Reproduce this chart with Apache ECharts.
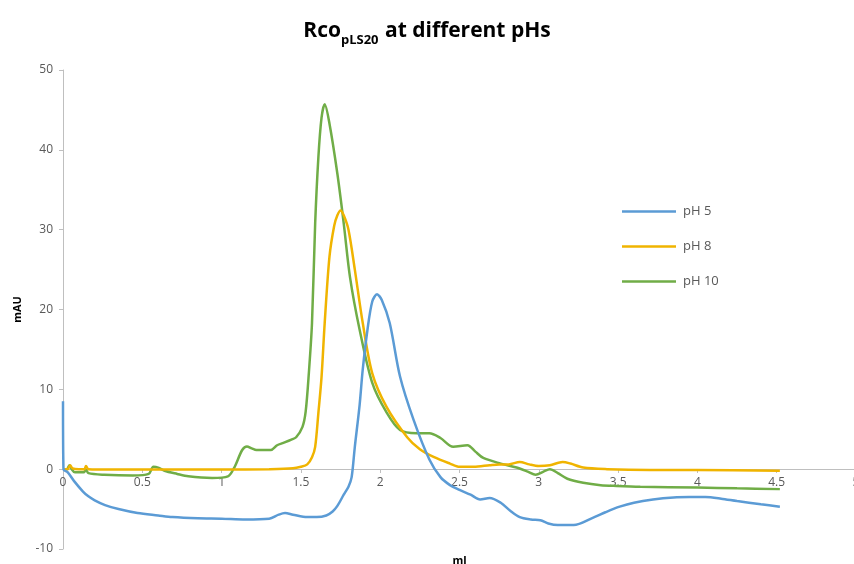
<!DOCTYPE html>
<html><head><meta charset="utf-8">
<script src="https://cdn.jsdelivr.net/npm/echarts@6/dist/echarts.min.js"></script>
<style>html,body{margin:0;padding:0;background:#fff}#c{width:854px;height:564px}</style>
</head><body><div id="c"></div>
<script>
const seriesNames = ['pH 5', 'pH 8', 'pH 10'];
const colors = ['#5B9BD5', '#F0B400', '#70AD47'];
const ph5 = [[0,8.5],[0.003,0],[0.03,-0.4],[0.07,-1.5],[0.126,-2.8],[0.16,-3.4],[0.2,-3.9],[0.265,-4.5],[0.35,-5.0],[0.47,-5.5],[0.6,-5.8],[0.69,-6.0],[0.85,-6.15],[1.0,-6.2],[1.15,-6.3],[1.3,-6.2],[1.36,-5.7],[1.40,-5.5],[1.45,-5.7],[1.54,-6.0],[1.6,-6.0],[1.66,-5.8],[1.70,-5.3],[1.73,-4.6],[1.77,-3.2],[1.80,-2.2],[1.82,-1.0],[1.84,2.8],[1.87,8],[1.89,12.5],[1.92,17.5],[1.95,21],[1.98,21.9],[2.01,21.2],[2.06,18.3],[2.125,11.6],[2.21,6.2],[2.31,1.2],[2.38,-1.0],[2.44,-2.0],[2.5,-2.6],[2.57,-3.2],[2.63,-3.8],[2.69,-3.6],[2.76,-4.2],[2.82,-5.2],[2.88,-6.0],[2.95,-6.3],[3.01,-6.4],[3.06,-6.8],[3.12,-7.0],[3.22,-7.0],[3.34,-6.1],[3.42,-5.4],[3.51,-4.7],[3.6,-4.2],[3.72,-3.8],[3.85,-3.55],[3.95,-3.5],[4.05,-3.5],[4.15,-3.7],[4.25,-4.0],[4.4,-4.4],[4.52,-4.7]];
const ph8 = [[0,0],[0.03,0],[0.045,0.5],[0.06,0.1],[0.1,0],[0.135,0],[0.145,0.4],[0.16,0],[0.3,-0.05],[0.6,-0.05],[1.0,-0.05],[1.3,0],[1.45,0.1],[1.5,0.3],[1.54,0.6],[1.57,1.5],[1.59,2.8],[1.61,7],[1.63,11.5],[1.65,18.3],[1.68,26.6],[1.71,30.5],[1.73,31.8],[1.75,32.4],[1.77,31.8],[1.80,30],[1.84,25],[1.89,18.3],[1.95,12],[2.04,7.8],[2.17,4.0],[2.25,2.5],[2.34,1.5],[2.44,0.7],[2.5,0.3],[2.59,0.3],[2.69,0.5],[2.75,0.6],[2.81,0.6],[2.88,0.9],[2.94,0.6],[3.0,0.4],[3.07,0.5],[3.15,0.9],[3.2,0.7],[3.28,0.2],[3.43,0],[3.7,-0.1],[4.0,-0.1],[4.52,-0.2]];
const ph10 = [[0,0],[0.025,0],[0.04,0.5],[0.055,0],[0.075,-0.4],[0.13,-0.4],[0.145,-0.1],[0.16,-0.5],[0.26,-0.7],[0.44,-0.8],[0.54,-0.6],[0.57,0.3],[0.6,0.2],[0.64,-0.2],[0.72,-0.6],[0.79,-0.9],[0.94,-1.1],[1.04,-0.9],[1.08,0.2],[1.13,2.4],[1.16,2.85],[1.19,2.6],[1.22,2.4],[1.31,2.4],[1.35,3.0],[1.39,3.3],[1.44,3.7],[1.47,4.0],[1.51,5.3],[1.53,7.2],[1.55,12],[1.57,18.3],[1.59,30.8],[1.61,39],[1.63,44],[1.65,45.7],[1.68,43.3],[1.73,37],[1.77,30.8],[1.81,24],[1.87,17.5],[1.95,10.8],[2.04,7.1],[2.125,4.9],[2.23,4.5],[2.31,4.5],[2.38,3.9],[2.46,2.8],[2.55,3.0],[2.6,2.2],[2.65,1.4],[2.76,0.7],[2.86,0.2],[2.93,-0.3],[2.98,-0.7],[3.03,-0.3],[3.07,0],[3.12,-0.5],[3.18,-1.2],[3.28,-1.7],[3.39,-2.0],[3.49,-2.1],[3.64,-2.2],[4.0,-2.3],[4.25,-2.4],[4.52,-2.5]];
const seriesData = [ph5, ph8, ph10];

const chart = echarts.init(document.getElementById('c'), null, {renderer: 'canvas'});
const labelColor = '#595959';
const font = 'Open Sans';
chart.setOption({
  animation: false,
  backgroundColor: '#fff',
  title: {
    text: '{a|Rco}{s|pLS20}{a| at different pHs}',
    left: 'center', top: 11,
    textStyle: {
      rich: {
        a: {fontFamily: font, fontWeight: 'bold', fontSize: 21, color: '#000', verticalAlign: 'bottom', lineHeight: 26},
        s: {fontFamily: font, fontWeight: 'bold', fontSize: 13, color: '#000', verticalAlign: 'bottom', lineHeight: 26, padding: [0, 1, -5, 0]}
      }
    }
  },
  legend: {
    orient: 'vertical', left: 617, top: 200,
    itemWidth: 54, itemHeight: 14, itemGap: 22,
    icon: 'path://M0,6 L54,6 L54,8.5 L0,8.5 Z',
    textStyle: {fontFamily: font, fontSize: 13, color: labelColor, padding: [0, 0, 0, 2]},
    data: seriesNames
  },
  grid: {left: 63, top: 70, width: 793, height: 479, containLabel: false, outerBoundsMode: 'none'},
  xAxis: {
    type: 'value', min: 0, max: 5, interval: 0.5,
    offset: -80,
    name: 'ml', nameLocation: 'middle', nameGap: 86,
    nameTextStyle: {fontFamily: font, fontWeight: 'bold', fontSize: 11, color: '#000'},
    axisLine: {onZero: false, lineStyle: {color: '#BFBFBF', width: 1}},
    axisTick: {show: true, length: 4, lineStyle: {color: '#BFBFBF'}},
    axisLabel: {fontFamily: font, fontSize: 12, color: labelColor, margin: 8},
    splitLine: {show: false}
  },
  yAxis: {
    type: 'value', min: -10, max: 50, interval: 10,
    name: 'mAU', nameLocation: 'middle', nameGap: 40, nameRotate: 90,
    nameTextStyle: {fontFamily: font, fontWeight: 'bold', fontSize: 11, color: '#000'},
    axisLine: {show: true, lineStyle: {color: '#BFBFBF', width: 1}},
    axisTick: {show: true, length: 4, lineStyle: {color: '#BFBFBF'}},
    axisLabel: {fontFamily: font, fontSize: 12, color: labelColor, margin: 10},
    splitLine: {show: false}
  },
  series: seriesNames.map((n, i) => ({
    name: n, type: 'line', data: seriesData[i],
    symbol: 'none', smooth: 0.3,
    lineStyle: {color: colors[i], width: 2.5},
    itemStyle: {color: colors[i]},
    z: 3 - i
  }))
});
</script></body></html>
